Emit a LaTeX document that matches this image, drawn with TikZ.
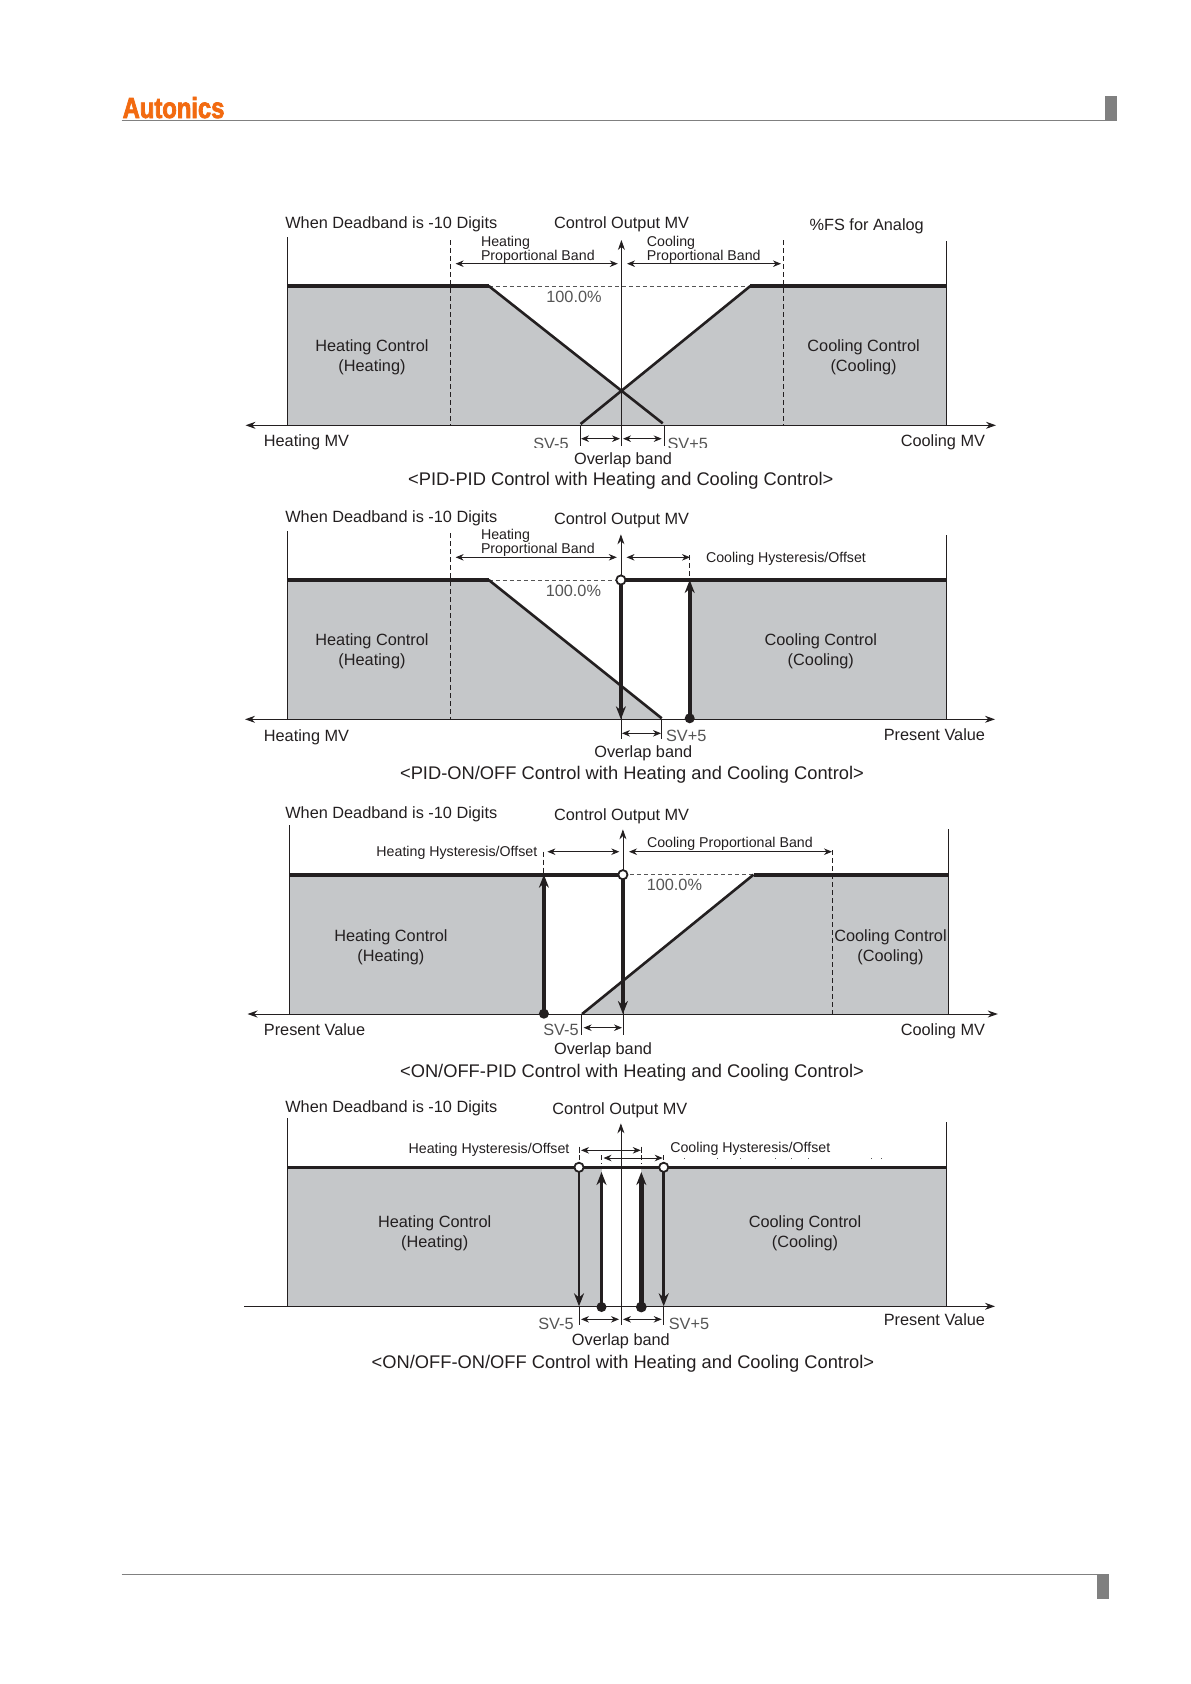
\documentclass[tikz,border=0pt]{standalone}
\usepackage{fontspec}
\usetikzlibrary{arrows.meta}
\setmainfont{Liberation Sans}
\newfontfamily\logofont[FakeStretch=0.82,BoldFeatures={FakeBold=2.5}]{Liberation Sans}
\definecolor{boxgray}{HTML}{C5C7C9}
\definecolor{ink}{HTML}{231F20}
\definecolor{softink}{HTML}{555555}
\definecolor{rulegray}{HTML}{808080}
\definecolor{logoorange}{HTML}{F26A10}
\newcommand{\fsz}[1]{\fontsize{#1}{#1}\selectfont}
\tikzset{
  x=1pt,y=-1pt,
  txt/.style={inner sep=0pt,outer sep=0pt,text=ink,text height=.72em,text depth=.2em,yshift=-3.5pt},
  lab/.style={txt,font=\fsz{16.3}},
  titlecap/.style={txt,font=\fsz{18.3}},
  smalltxt/.style={txt,font=\fsz{14.2},yshift=.5pt},
  sv/.style={txt,font=\fsz{16.3},text=softink},
  frame/.style={draw=ink,line width=.7pt},
  axisline/.style={draw=ink,line width=1pt},
  heavyline/.style={draw=ink,line width=4pt},
  slopeline/.style={draw=ink,line width=2.6pt},
  guide/.style={draw=ink,line width=.7pt,dash pattern=on 5pt off 3pt},
  lev/.style={draw=softink,line width=1pt,dash pattern=on 4pt off 3pt},
  dimline/.style={draw=ink,line width=.8pt,{Stealth[length=8pt,width=6.5pt]}-{Stealth[length=8pt,width=6.5pt]}},
  upaxis/.style={draw=ink,line width=.8pt,-{Stealth[length=10pt,width=7pt]}},
  bothaxis/.style={axisline,{Stealth[length=10pt,width=7pt]}-{Stealth[length=10pt,width=7pt]}},
  switchline/.style={draw=ink,line width=3.6pt,-{Stealth[length=13pt,width=10pt]}},
  opendot/.style={draw=ink,line width=1.8pt,fill=white},
}
\begin{document}
\begin{tikzpicture}
\useasboundingbox (0,0) rectangle (1191,1684);
\fill[white] (0,0) rectangle (1191,1684);
% header and footer
\node[anchor=base west,inner sep=0pt,text=logoorange,font=\logofont\bfseries\fsz{29}] (logo) at (122.5,118) {Autonics};
\draw[rulegray,line width=1.2pt] (121.5,120.5) -- (1105,120.5);
\fill[rulegray] (1105,96) rectangle (1116.7,121);
\draw[rulegray,line width=1.2pt] (121.5,1574.3) -- (1097,1574.3);
\fill[rulegray] (1097,1574) rectangle (1109,1599);

%%% PANEL 1
\fill[boxgray] (287.3,286) -- (488.8,286) -- (621.4,390.7) -- (750.4,286) -- (946.2,286) -- (946.2,425.3) -- (287.3,425.3) -- cycle;
\draw[frame] (287.3,237.3) -- (287.3,425.3);
\draw[frame] (946.2,241.3) -- (946.2,425.3);
\draw[guide] (450.5,240) -- (450.5,425.3);
\draw[guide] (783,240) -- (783,425.3);
\draw[lev] (488.8,286) -- (750.4,286);
\draw[heavyline] (287.3,286) -- (488.8,286);
\draw[heavyline] (750.4,286) -- (946.2,286);
\draw[slopeline] (488.8,286) -- (662.7,423.3);
\draw[slopeline] (750.4,286) -- (580.6,424);
\draw[bothaxis] (245.5,425.3) -- (996,425.3);
\draw[upaxis] (621.4,446) -- (621.4,240);
\draw[frame] (580,425.3) -- (580,446);
\draw[frame] (664.2,425.3) -- (664.2,446);
\draw[dimline] (455.6,263.7) -- (617.8,263.7);
\draw[dimline] (627,263.7) -- (781,263.7);
\draw[dimline] (581,438.7) -- (620,438.7);
\draw[dimline] (623,438.7) -- (661.7,438.7);
\node[lab,anchor=west] (a1) at (285.3,222) {When Deadband is -10 Digits};
\node[lab] (a2) at (621.6,222) {Control Output MV};
\node[lab] (a3) at (866.7,224.3) {\%FS for Analog};
\node[smalltxt,anchor=west] (a4) at (481,241) {Heating};
\node[smalltxt,anchor=west] (a5) at (481,255) {Proportional Band};
\node[smalltxt,anchor=west] (a6) at (646.9,241) {Cooling};
\node[smalltxt,anchor=west] (a7) at (646.9,255) {Proportional Band};
\node[sv] (a8) at (574,296.7) {100.0\%};
\node[lab] (a9) at (372,345.3) {Heating Control};
\node[lab] (a10) at (372,365) {(Heating)};
\node[lab] (a11) at (863.6,345.3) {Cooling Control};
\node[lab] (a12) at (863.6,365) {(Cooling)};
\begin{scope}
\clip (500,430) rectangle (720,447.3);
\node[sv] (a13) at (551,443.3) {SV-5};
\node[sv,anchor=west] (a14) at (667.5,443.3) {SV+5};
\end{scope}
\node[lab,anchor=west] (a15) at (263.9,440.7) {Heating MV};
\node[lab,anchor=east] (a16) at (985,440.7) {Cooling MV};
\node[lab] (a17) at (623,458.7) {Overlap band};
\node[titlecap] (a18) at (620.8,479.3) {<PID-PID Control with Heating and Cooling Control>};

%%% PANEL 2
\fill[boxgray] (287.3,580) -- (488.8,580) -- (661.7,719.3) -- (287.3,719.3) -- cycle;
\fill[boxgray] (689.7,580) rectangle (946.2,719.3);
\draw[frame] (287.3,531.3) -- (287.3,719.3);
\draw[frame] (946.2,535.3) -- (946.2,719.3);
\draw[guide] (450.5,533.3) -- (450.5,719.3);
\draw[guide] (689.7,555) -- (689.7,580);
\draw[lev] (488.8,580) -- (620.9,580);
\draw[heavyline] (287.3,580) -- (488.8,580);
\draw[heavyline] (620.9,580) -- (946.2,580);
\draw[slopeline] (488.8,580) -- (661.7,718.3);
\draw[bothaxis] (245,719.3) -- (995,719.3);
\draw[upaxis] (620.9,738.7) -- (620.9,534.3);
\draw[frame] (661.7,719.3) -- (661.7,739.3);
\draw[switchline] (620.9,580) -- (620.9,719.3);
\draw[switchline] (689.7,718.3) -- (689.7,580);
\fill[ink] (689.7,718.3) circle (5);
\draw[opendot] (620.9,580) circle (4.6);
\draw[dimline] (455.6,557.3) -- (616.8,557.3);
\draw[dimline] (626.5,557.3) -- (690,557.3);
\draw[dimline] (622,733.3) -- (661,733.3);
\node[lab,anchor=west] (b1) at (285.3,516) {When Deadband is -10 Digits};
\node[lab] (b2) at (621.6,518) {Control Output MV};
\node[smalltxt,anchor=west] (b3) at (481,534.3) {Heating};
\node[smalltxt,anchor=west] (b4) at (481,548.3) {Proportional Band};
\node[smalltxt,anchor=west] (b5) at (706,556.7) {Cooling Hysteresis/Offset};
\node[sv] (b6) at (573.4,590.7) {100.0\%};
\node[lab] (b7) at (372,639.3) {Heating Control};
\node[lab] (b8) at (372,659) {(Heating)};
\node[lab] (b9) at (820.8,639.3) {Cooling Control};
\node[lab] (b10) at (820.8,659) {(Cooling)};
\node[sv,anchor=west] (b11) at (666,735) {SV+5};
\node[lab,anchor=west] (b12) at (263.9,735.7) {Heating MV};
\node[lab,anchor=east] (b13) at (985,734.3) {Present Value};
\node[lab] (b14) at (643.3,751.7) {Overlap band};
\node[titlecap] (b15) at (632,773.3) {<PID-ON/OFF Control with Heating and Cooling Control>};

%%% PANEL 3
\fill[boxgray] (289.4,874.7) rectangle (543.9,1014);
\fill[boxgray] (582.1,1014) -- (753.5,874.7) -- (948.3,874.7) -- (948.3,1014) -- cycle;
\draw[frame] (289.4,825.3) -- (289.4,1014);
\draw[frame] (948.3,829.3) -- (948.3,1014);
\draw[guide] (543.5,851.7) -- (543.5,874.7);
\draw[guide] (832.5,850) -- (832.5,1014);
\draw[lev] (622.9,874.7) -- (753.5,874.7);
\draw[heavyline] (289.4,874.7) -- (622.9,874.7);
\draw[heavyline] (753.5,874.7) -- (948.3,874.7);
\draw[slopeline] (582.1,1014) -- (753.5,874.7);
\draw[bothaxis] (247.5,1014) -- (997.8,1014);
\draw[upaxis] (622.9,1034.7) -- (622.9,829.3);
\draw[frame] (581.6,1014) -- (581.6,1034.7);
\draw[switchline] (622.9,874.7) -- (622.9,1014);
\draw[switchline] (543.9,1013.7) -- (543.9,874.7);
\fill[ink] (543.9,1013.7) circle (5);
\draw[opendot] (622.9,874.7) circle (4.6);
\draw[dimline] (547.4,851.7) -- (619.3,851.7);
\draw[dimline] (629,851.7) -- (832,851.7);
\draw[dimline] (583.6,1027.7) -- (622,1027.7);
\node[lab,anchor=west] (c1) at (285.3,812) {When Deadband is -10 Digits};
\node[lab] (c2) at (621.6,814) {Control Output MV};
\node[smalltxt,anchor=west] (c3) at (647,842.3) {Cooling Proportional Band};
\node[smalltxt,anchor=east] (c4) at (537.2,850.7) {Heating Hysteresis/Offset};
\node[sv] (c5) at (674.4,884.3) {100.0\%};
\node[lab] (c6) at (390.9,935.7) {Heating Control};
\node[lab] (c7) at (390.9,955) {(Heating)};
\node[lab] (c8) at (890.5,935.7) {Cooling Control};
\node[lab] (c9) at (890.5,955) {(Cooling)};
\node[sv] (c10) at (561,1029) {SV-5};
\node[lab,anchor=west] (c11) at (263.9,1029) {Present Value};
\node[lab,anchor=east] (c12) at (985,1029) {Cooling MV};
\node[lab] (c13) at (603,1048.3) {Overlap band};
\node[titlecap] (c14) at (632,1071.7) {<ON/OFF-PID Control with Heating and Cooling Control>};

%%% PANEL 4
\fill[boxgray] (287.3,1167.3) rectangle (601.5,1306.3);
\fill[boxgray] (641.3,1167.3) rectangle (946.2,1306.3);
\draw[frame] (287.3,1118.3) -- (287.3,1306.3);
\draw[frame] (946.2,1122.3) -- (946.2,1306.3);
\draw[frame] (579,1146.7) -- (579,1153.3);
\draw[guide] (579,1155) -- (579,1163.3);
\draw[guide] (601.5,1155) -- (601.5,1163.3);
\draw[frame,line width=1.2pt] (641.3,1146.7) -- (641.3,1153.3);
\draw[guide] (641.3,1155) -- (641.3,1163.3);
\draw[guide] (663.7,1155) -- (663.7,1163.3);
\draw[heavyline,line width=3.2pt] (287.3,1167.3) -- (946.2,1167.3);
\draw[axisline,-{Stealth[length=10pt,width=7pt]}] (244,1306.3) -- (995,1306.3);
\draw[upaxis] (620.9,1325) -- (620.9,1123.3);
\draw[frame] (579,1306.3) -- (579,1325);
\draw[frame] (663.7,1306.3) -- (663.7,1325);
\draw[switchline,line width=2.8pt] (579,1167.3) -- (579,1306.3);
\draw[switchline,line width=2.8pt] (663.7,1167.3) -- (663.7,1306.3);
\draw[switchline] (601.5,1307) -- (601.5,1172);
\draw[switchline,line width=4.8pt] (641.3,1307) -- (641.3,1172);
\fill[ink] (601.5,1307) circle (5);
\fill[ink] (641.3,1307) circle (5.4);
\draw[opendot] (579,1167.3) circle (4.6);
\draw[opendot] (663.7,1167.3) circle (4.6);
\draw[dimline] (581,1150.3) -- (640.8,1150.3);
\draw[dimline] (603.5,1158) -- (662.7,1158);
\draw[dimline] (581,1319.3) -- (619,1319.3);
\draw[dimline] (623,1319.3) -- (661.7,1319.3);
\foreach \dx in {684,717,740,775,791,808,871,881}
  \fill[softink] (\dx,1158) rectangle ++(1.2,1.2);
\node[lab,anchor=west] (d1) at (285.3,1106) {When Deadband is -10 Digits};
\node[lab] (d2) at (619.8,1108) {Control Output MV};
\node[smalltxt,anchor=east] (d3) at (569.4,1148) {Heating Hysteresis/Offset};
\node[smalltxt,anchor=west] (d4) at (670.3,1146.7) {Cooling Hysteresis/Offset};
\node[lab] (d5) at (434.7,1221.7) {Heating Control};
\node[lab] (d6) at (434.7,1241) {(Heating)};
\node[lab] (d7) at (805,1221.7) {Cooling Control};
\node[lab] (d8) at (805,1241) {(Cooling)};
\node[sv] (d9) at (556,1323.3) {SV-5};
\node[sv] (d10) at (689,1323.3) {SV+5};
\node[lab,anchor=east] (d11) at (985,1319.7) {Present Value};
\node[lab] (d12) at (620.9,1339) {Overlap band};
\node[titlecap] (d13) at (622.9,1362.3) {<ON/OFF-ON/OFF Control with Heating and Cooling Control>};
\end{tikzpicture}
\end{document}
